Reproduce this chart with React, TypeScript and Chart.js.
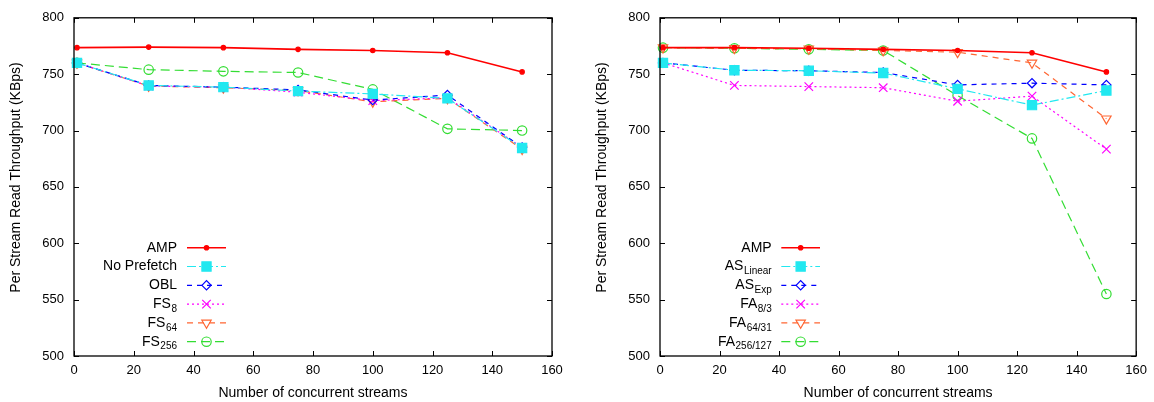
import React, { useEffect, useRef } from 'react';
import { Chart, registerables } from 'chart.js';
import { drawPoint } from 'chart.js/helpers';

Chart.register(...registerables);

// ---------- data ----------
const streams = [1, 25, 50, 75, 100, 125, 150];
const xTickValues = [0, 20, 40, 60, 80, 100, 120, 140, 160];
const yTickValues = [500, 550, 600, 650, 700, 750, 800];

// left panel
const ampLeft = [773.5, 774, 773.5, 772, 771, 769, 752];
const noPrefetch = [760, 740, 738.5, 735, 732.5, 728.5, 684.5];
const obl = [760, 740, 738.5, 736, 727, 731.5, 685];
const fs8 = [760, 739.5, 738.5, 734, 726.5, 729, 685];
const fs64 = [760, 739.5, 738, 735.5, 725.5, 728.5, 683.5];
const fs256 = [760, 754, 752.5, 751.5, 736.5, 701.5, 700];

// right panel
const ampRight = [773.5, 773.5, 773, 772, 771, 769, 752];
const asLinear = [760, 753.5, 753, 751, 737, 722.5, 735.5];
const asExp = [760, 753.5, 753, 751.5, 740.5, 742, 740.5];
const fa8 = [760, 740, 739, 738, 726, 730.5, 683.5];
const fa64 = [773.5, 773, 772.5, 771, 769.5, 760, 710.5];
const fa256 = [773.5, 773, 772, 771, 731, 693, 555];

const leftLabels: [string, string][] = [
  ['AMP', ''],
  ['No Prefetch', ''],
  ['OBL', ''],
  ['FS', '8'],
  ['FS', '64'],
  ['FS', '256'],
];
const rightLabels: [string, string][] = [
  ['AMP', ''],
  ['AS', 'Linear'],
  ['AS', 'Exp'],
  ['FA', '8/3'],
  ['FA', '64/31'],
  ['FA', '256/127'],
];

const xTitle = 'Number of concurrent streams';
const yTitle = 'Per Stream Read Throughput (KBps)';

// ---------- styles ----------
const FONT = '"Liberation Sans", Arial, Helvetica, sans-serif';

type Style = {
  color: string;
  dash: number[];
  width: number;
  pointStyle: string;
  radius: number;
  rotation: number;
  filled: boolean;
};

const styles: Style[] = [
  { color: '#ff0000', dash: [], width: 1.6, pointStyle: 'circle', radius: 2.2, rotation: 0, filled: true },
  { color: '#22e8f0', dash: [9, 3, 2, 3], width: 1.2, pointStyle: 'rect', radius: 6.5, rotation: 0, filled: true },
  { color: '#0000ff', dash: [5, 5], width: 1.2, pointStyle: 'rectRot', radius: 4.6, rotation: 0, filled: false },
  { color: '#ff00ff', dash: [2, 3], width: 1.2, pointStyle: 'crossRot', radius: 6, rotation: 0, filled: false },
  { color: '#ff6633', dash: [6, 5], width: 1.2, pointStyle: 'triangle', radius: 5.4, rotation: 180, filled: false },
  { color: '#33dd33', dash: [9, 5], width: 1.2, pointStyle: 'circle', radius: 4.7, rotation: 0, filled: false },
];

type PanelCfg = {
  series: number[][];
  labels: [string, string][];
  width: number;
  padRight: number;
  legendTextRight: number;
  legendLineStart: number;
  legendLineEnd: number;
};

const legendRows = [247.7, 266.5, 285.3, 304.1, 322.9, 341.7];

const framePlugin = {
  id: 'frameAndLegend',
  afterDraw(chart: any) {
    const cfg: PanelCfg = chart.options.plugins.frameAndLegend.cfg;
    const { ctx, chartArea } = chart;
    const { left, right, top, bottom } = chartArea;
    const xs = chart.scales.x;
    const ys = chart.scales.y;
    ctx.save();
    ctx.strokeStyle = '#000';
    ctx.lineWidth = 1.3;
    ctx.setLineDash([]);
    ctx.strokeRect(left, top, right - left, bottom - top);
    const tl = 5;
    ctx.beginPath();
    xTickValues.forEach((v) => {
      const px = Math.round(xs.getPixelForValue(v)) + 0.5;
      ctx.moveTo(px, bottom);
      ctx.lineTo(px, bottom - tl);
      ctx.moveTo(px, top);
      ctx.lineTo(px, top + tl);
    });
    yTickValues.forEach((v) => {
      const py = Math.round(ys.getPixelForValue(v)) + 0.5;
      ctx.moveTo(left, py);
      ctx.lineTo(left + tl, py);
      ctx.moveTo(right, py);
      ctx.lineTo(right - tl, py);
    });
    ctx.lineWidth = 1;
    ctx.stroke();

    // y-axis title
    ctx.save();
    ctx.translate(16, 177.5);
    ctx.rotate(-Math.PI / 2);
    ctx.fillStyle = '#000';
    ctx.font = `14px ${FONT}`;
    ctx.textAlign = 'center';
    ctx.textBaseline = 'middle';
    ctx.fillText(yTitle, 0, 0);
    ctx.restore();

    // legend
    cfg.labels.forEach(([main, sub], i) => {
      const y = legendRows[i];
      const st = styles[i];
      ctx.fillStyle = '#000';
      ctx.textBaseline = 'middle';
      ctx.textAlign = 'left';
      ctx.font = `14px ${FONT}`;
      const mw = ctx.measureText(main).width;
      ctx.font = `10px ${FONT}`;
      const sw = sub ? ctx.measureText(sub).width + 0.5 : 0;
      const x0 = cfg.legendTextRight - mw - sw;
      ctx.font = `14px ${FONT}`;
      ctx.fillText(main, x0, y);
      if (sub) {
        ctx.font = `10px ${FONT}`;
        ctx.fillText(sub, x0 + mw + 0.5, y + 5);
      }
      // sample line
      ctx.strokeStyle = st.color;
      ctx.lineWidth = st.width;
      ctx.setLineDash(st.dash);
      ctx.beginPath();
      ctx.moveTo(cfg.legendLineStart, y);
      ctx.lineTo(cfg.legendLineEnd, y);
      ctx.stroke();
      ctx.setLineDash([]);
      ctx.fillStyle = st.filled ? st.color : 'rgba(0,0,0,0)';
      ctx.lineWidth = 1.2;
      drawPoint(
        ctx,
        { pointStyle: st.pointStyle as any, radius: st.radius, rotation: st.rotation, borderWidth: 1.2 },
        (cfg.legendLineStart + cfg.legendLineEnd) / 2,
        y
      );
    });
    ctx.restore();
  },
};

function Panel({ cfg }: { cfg: PanelCfg }) {
  const ref = useRef<HTMLCanvasElement | null>(null);
  useEffect(() => {
    if (!ref.current) return;
    const tickFont = { family: FONT, size: 13 };
    const titleFont = { family: FONT, size: 14 };
    const chart = new Chart(ref.current, {
      type: 'scatter',
      data: {
        datasets: cfg.series.map((vals, i) => {
          const st = styles[i];
          return {
            label: cfg.labels[i].join(''),
            data: streams.map((x, j) => ({ x, y: vals[j] })),
            showLine: true,
            tension: 0,
            fill: false,
            clip: false as any,
            borderColor: st.color,
            borderWidth: st.width,
            borderDash: st.dash,
            pointStyle: st.pointStyle as any,
            pointRadius: st.radius,
            pointRotation: st.rotation,
            pointBorderColor: st.color,
            pointBorderWidth: 1.2,
            pointBackgroundColor: st.filled ? st.color : 'rgba(0,0,0,0)',
          };
        }),
      },
      options: {
        animation: false,
        responsive: false,
        maintainAspectRatio: false,
        layout: { padding: { top: 13.5, right: cfg.padRight, left: 0, bottom: 0 } },
        plugins: {
          legend: { display: false },
          tooltip: { enabled: false },
          frameAndLegend: { cfg },
        } as any,
        scales: {
          x: {
            type: 'linear',
            min: 0,
            max: 160,
            afterBuildTicks: (s: any) => {
              s.ticks = xTickValues.map((v) => ({ value: v }));
            },
            afterFit: (s: any) => {
              s.height = 46;
            },
            grid: { display: false, drawTicks: false },
            border: { display: false },
            ticks: { font: tickFont, color: '#000', padding: 7, maxRotation: 0, autoSkip: false },
            title: { display: true, text: xTitle, font: titleFont, color: '#000', padding: { top: 0, bottom: 0.5 } },
          },
          y: {
            type: 'linear',
            min: 500,
            max: 800,
            afterBuildTicks: (s: any) => {
              s.ticks = yTickValues.map((v) => ({ value: v }));
            },
            afterFit: (s: any) => {
              s.width = 74;
            },
            grid: { display: false, drawTicks: false },
            border: { display: false },
            ticks: { font: tickFont, color: '#000', padding: 10, autoSkip: false },
            title: { display: false },
          },
        },
      },
      plugins: [framePlugin],
    });
    return () => chart.destroy();
  }, [cfg]);
  return <canvas ref={ref} width={cfg.width} height={402} style={{ display: 'block', width: cfg.width, height: 402 }} />;
}

const leftCfg: PanelCfg = {
  series: [ampLeft, noPrefetch, obl, fs8, fs64, fs256],
  labels: leftLabels,
  width: 586,
  padRight: 34,
  legendTextRight: 177,
  legendLineStart: 187,
  legendLineEnd: 226,
};

const rightCfg: PanelCfg = {
  series: [ampRight, asLinear, asExp, fa8, fa64, fa256],
  labels: rightLabels,
  width: 568,
  padRight: 16,
  legendTextRight: 185.7,
  legendLineStart: 195.3,
  legendLineEnd: 234,
};

export default function App() {
  return (
    <div
      style={{
        position: 'fixed',
        left: 0,
        top: 0,
        width: 1154,
        height: 402,
        background: '#fff',
        display: 'flex',
        flexDirection: 'row',
      }}
    >
      <Panel cfg={leftCfg} />
      <Panel cfg={rightCfg} />
    </div>
  );
}
